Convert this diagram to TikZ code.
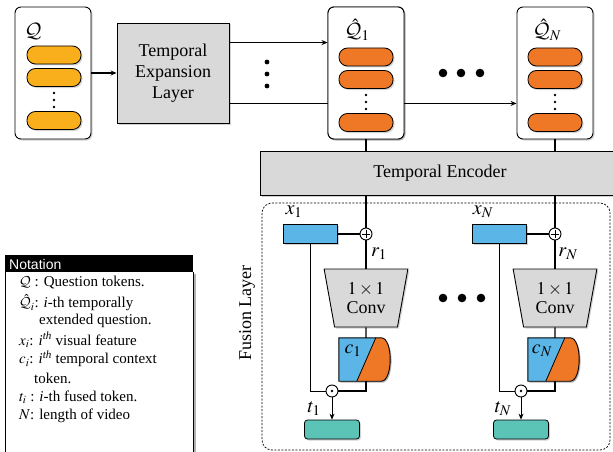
\documentclass[tikz,border=0pt]{standalone}
\usepackage{mathptmx}
\DeclareMathAlphabet{\mathcal}{OMS}{cmsy}{m}{n}
\usepackage{fontspec}
\setmainfont{Liberation Serif}
\newfontfamily\notsans{Liberation Sans}
\usetikzlibrary{shapes.geometric,shadows,calc,arrows.meta}
\definecolor{tokY}{HTML}{F9AE1C}
\definecolor{tokO}{HTML}{EF7826}
\definecolor{featB}{HTML}{5BB5E6}
\definecolor{fusT}{HTML}{5BC4B7}
\definecolor{boxG}{HTML}{D9D9D9}
\tikzset{
  shad/.style={drop shadow={opacity=0.35,shadow xshift=1.5pt,shadow yshift=-1.5pt}},
  panel/.style={draw, fill=white, rounded corners=6pt, line width=0.9pt, shad, minimum width=76pt, minimum height=132pt, inner sep=0pt},
  pill/.style={draw, line width=0.8pt, rounded corners=8.5pt, minimum width=54pt, minimum height=18pt, inner sep=0pt, shad},
  graybox/.style={draw, fill=boxG, line width=0.9pt, shad, inner sep=0pt, font=\fontsize{18}{21}\selectfont, align=center},
  conn/.style={line width=1.4pt},
  thinconn/.style={line width=0.8pt},
  arr/.style={-{Stealth[length=6pt,width=5pt]}},
  lbl/.style={font=\fontsize{20}{22}\selectfont, inner sep=0pt},
  feat/.style={draw, fill=featB, line width=0.8pt, minimum width=54pt, minimum height=19pt, inner sep=0pt, shad},
  fused/.style={draw, fill=fusT, line width=0.8pt, rounded corners=3pt, minimum width=55pt, minimum height=19pt, inner sep=0pt, shad},
  opcirc/.style={circle, draw, fill=white, line width=0.9pt, minimum size=12pt, inner sep=0pt},
  convbox/.style={trapezium, trapezium stretches=true, shape border rotate=180, trapezium left angle=78.3, trapezium right angle=78.3, minimum width=84pt, minimum height=58pt, inner sep=0pt, draw, fill=boxG, line width=0.9pt, shad, align=center, font=\fontsize{18}{19}\selectfont},
  nt/.style={anchor=west, inner sep=0pt, font=\fontsize{15}{17}\selectfont},
}
\begin{document}
\begin{tikzpicture}[x=1pt,y=-1pt]
\useasboundingbox (0,0) rectangle (613,452);

\node[graybox, minimum width=112pt, minimum height=100pt] (TEL) at (173,73) {Temporal\\Expansion\\Layer};
\coordinate (tu) at ($(TEL.north east)+(0,20)$);
\coordinate (tl) at ($(TEL.south east)+(0,-20)$);

% panels
\node[panel] (Q) at (53,73) {};
\node[panel] (Q1) at (366,73) {};
\node[panel] (QN) at (555,73) {};
\draw[conn] (tl) -- (tl -| Q1.west);
\node[panel] (Q1b) at (366,73) {};

\draw[conn,arr] (Q) -- (TEL);
\draw[conn,arr] (tu) -- (tu -| Q1.west);
\draw[conn,arr] (tl -| Q1b.east) -- (tl -| QN.west);

% labels
\node[lbl] (Ql) at (33,31) {$\mathcal{Q}$};
\node[lbl] (Q1l) at (357,30) {$\hat{\mathcal{Q}}_1$};
\node[lbl] (QNl) at (547,30) {$\hat{\mathcal{Q}}_N$};

% tokens
\node[pill, fill=tokY] (qa) at (54,55) {};
\node[pill, fill=tokY] (qb) at (54,77.5) {};
\node[pill, fill=tokY] (qc) at (54,120.5) {};
\foreach \yy in {93,100,107} \fill (54,\yy) circle (1.3pt);
\foreach \cx/\nm in {366/a,555/b} {
  \node[pill, fill=tokO] (h\nm1) at (\cx,57) {};
  \node[pill, fill=tokO] (h\nm2) at (\cx,79.5) {};
  \node[pill, fill=tokO] (h\nm3) at (\cx,122.5) {};
  \foreach \yy in {95,102,109} \fill (\cx,\yy) circle (1.3pt);
}

% dots
\foreach \yy in {62,74,86} \fill (267,\yy) circle (2.4pt);
\foreach \xx in {443,461,480} \fill (\xx,73) circle (4.3pt);

% temporal encoder
\node[graybox, minimum width=360pt, minimum height=44pt] (TE) at (440,173) {Temporal Encoder};
\draw[conn] (Q1b.south) -- (Q1b.south |- TE.north);
\draw[conn] (QN.south) -- (QN.south |- TE.north);

% fusion layer frame
\draw[line width=0.7pt, dash pattern=on 2pt off 1.5pt, rounded corners=10pt] (262,203) rectangle (610,450);
\node[rotate=90, font=\fontsize{18}{20}\selectfont] (FL) at (247,313) {Fusion Layer};
\foreach \xx in {443,462,481} \fill (\xx,298) circle (4.3pt);

\foreach \off/\s in {0/1,189/N} {
\begin{scope}[xshift=\off pt]
  \node[feat] (x\s) at (310,234) {};
  \node[lbl] (xl\s) at (294,212) {$x_{\s}$};
  \node[opcirc] (p\s) at (366,234) {};
  \draw[line width=1pt] ($(p\s)+(-3.6,0)$) -- ($(p\s)+(3.6,0)$) ($(p\s)+(0,-3.6)$) -- ($(p\s)+(0,3.6)$);
  \node[lbl] (rl\s) at (379,254) {$r_{\s}$};
  \node[convbox] (cv\s) at (366,298) {$1\times1$\\Conv};
  \node[minimum width=54pt, minimum height=43pt, inner sep=0pt] (c\s) at (366,359.5) {};
  \fill[black, opacity=0.3] ($(c\s.north west)+(1.5,1.5)$) -- ($(c\s.north east)+(-11,1.5)$) .. controls ($(c\s.north east)+(1.5,1.5)$) and ($(c\s.south east)+(1.5,1.5)$) .. ($(c\s.south east)+(-11,1.5)$) -- ($(c\s.south west)+(1.5,1.5)$) -- cycle;
  \fill[featB] (c\s.north west) -- ($(c\s.north west)+(37,0)$) -- ($(c\s.south west)+(18,0)$) -- (c\s.south west) -- cycle;
  \fill[tokO] ($(c\s.north west)+(37,0)$) -- ($(c\s.north east)+(-12,0)$) .. controls ($(c\s.north east)+(0,0)$) and ($(c\s.south east)+(0,0)$) .. ($(c\s.south east)+(-12,0)$) -- ($(c\s.south west)+(18,0)$) -- cycle;
  \draw[line width=0.8pt] ($(c\s.north west)+(37,0)$) -- ($(c\s.south west)+(18,0)$);
  \draw[line width=0.9pt] (c\s.north west) -- ($(c\s.north east)+(-12,0)$) .. controls (c\s.north east) and (c\s.south east) .. ($(c\s.south east)+(-12,0)$) -- (c\s.south west) -- cycle;
  \node[lbl] (cl\s) at (353,351) {$c_{\s}$};
  \node[opcirc] (o\s) at (332,391) {};
  \fill (o\s) circle (1.4pt);
  \node[fused] (t\s) at (332,429.5) {};
  \node[lbl] (tl\s) at (314,409) {$t_{\s}$};
  \draw[conn] (TE.south -| p\s) -- (p\s);
  \draw[conn] (x\s) -- (p\s);
  \draw[conn] (p\s) -- (cv\s);
  \draw[conn] (cv\s) -- (c\s);
  \draw[conn] (c\s.south) |- (o\s);
  \draw[thinconn] (x\s.south) |- (o\s);
  \draw[thinconn,arr] (o\s) -- (t\s);
\end{scope}
}

% notation
\fill[black] (5,255) rectangle (193,272);
\node[anchor=west, text=white, inner sep=0pt, font=\notsans\fontsize{14}{16}\selectfont] (nh) at (9,264) {Notation};
\draw[line width=0.8pt] (5,452) -- (5,272);
\draw[line width=0.8pt] (193,272) -- (193,452);
\fill[black, opacity=0.3] (194,274) rectangle (195.5,452);
\node[nt] (n1) at (19,283) {$\mathcal{Q}$ : Question tokens.};
\node[nt] (n2) at (19,303) {$\hat{\mathcal{Q}}_i$: \textit{i}-th temporally};
\node[nt] (n3) at (39,321) {extended question.};
\node[nt] (n4) at (19,340) {$x_i$: \textit{i}\textsuperscript{\textit{th}} visual feature};
\node[nt] (n5) at (19,359) {$c_i$: \textit{i}\textsuperscript{\textit{th}} temporal context};
\node[nt] (n6) at (34,378) {token.};
\node[nt] (n7) at (19,397) {$t_i$ : \textit{i}-th fused token.};
\node[nt] (n8) at (19,416) {$N$: length of video};
\end{tikzpicture}
\end{document}
